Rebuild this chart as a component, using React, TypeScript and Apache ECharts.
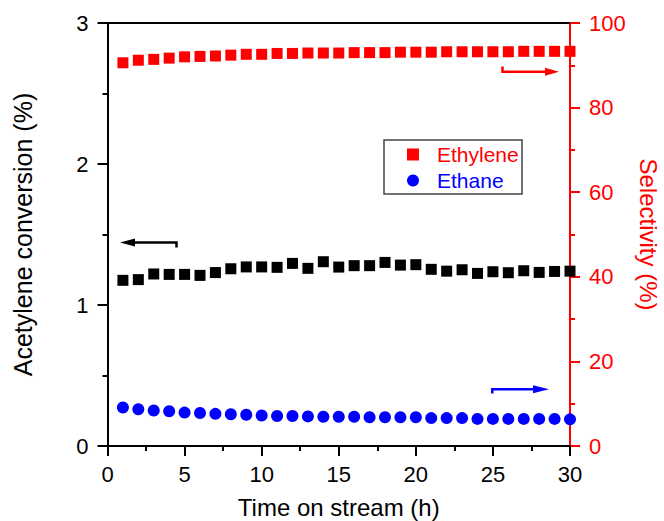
import React, { useEffect, useRef } from "react";
import * as echarts from "echarts";

const timeH = [1,2,3,4,5,6,7,8,9,10,11,12,13,14,15,16,17,18,19,20,21,22,23,24,25,26,27,28,29,30];
const conversion = [1.175,1.18,1.22,1.217,1.217,1.21,1.23,1.257,1.27,1.27,1.267,1.295,1.26,1.307,1.269,1.279,1.279,1.302,1.283,1.286,1.253,1.24,1.25,1.224,1.236,1.229,1.243,1.231,1.238,1.24];
const ethyleneSel = [90.6,91.2,91.4,91.7,92.0,92.1,92.2,92.4,92.6,92.6,92.8,92.8,92.9,92.9,92.9,93.0,93.0,93.0,93.1,93.1,93.1,93.2,93.2,93.2,93.2,93.2,93.3,93.3,93.3,93.3];
const ethaneSel = [9.1,8.7,8.4,8.2,7.9,7.8,7.6,7.5,7.4,7.2,7.1,7.1,7.0,6.9,6.9,6.9,6.8,6.8,6.8,6.8,6.6,6.6,6.6,6.4,6.4,6.4,6.4,6.4,6.4,6.3];
const leftTicks = [0, 1, 2, 3];
const rightTicks = [0, 20, 40, 60, 80, 100];
const xTicks = [0, 5, 10, 15, 20, 25, 30];

const FONT = 'Arial, "Liberation Sans", sans-serif';

export default function App() {
  const ref = useRef<HTMLDivElement>(null);
  useEffect(() => {
    if (!ref.current) return;
    const chart = echarts.init(ref.current, null, { renderer: "svg" });
    const pair = (ys: number[]) => timeH.map((t, i) => [t, ys[i]]);
    chart.setOption({
      animation: false,
      backgroundColor: "#fff",
      textStyle: { fontFamily: FONT },
      grid: { left: 107.5, right: 94, top: 23, bottom: 75, containLabel: false, outerBoundsMode: "none" },
      legend: {
        orient: "vertical",
        left: 407,
        top: 144,
        padding: 0,
        itemWidth: 12,
        itemHeight: 12,
        itemGap: 5,
        textStyle: { fontSize: 21, lineHeight: 21, fontFamily: FONT, padding: [0, 0, 0, 13] },
        data: [
          { name: "Ethylene", icon: "rect", textStyle: { color: "#ff0000" } },
          { name: "Ethane", icon: "circle", textStyle: { color: "#0000ff" } },
        ],
      },
      xAxis: [
        {
          type: "value",
          min: xTicks[0],
          max: xTicks[xTicks.length - 1],
          interval: 5,
          name: "Time on stream (h)",
          nameLocation: "middle",
          nameGap: 50,
          nameTextStyle: { fontSize: 24, lineHeight: 23, color: "#000", fontFamily: FONT },
          axisLine: { onZero: false, lineStyle: { color: "#000", width: 2 } },
          axisTick: { inside: false, length: 10, lineStyle: { color: "#000", width: 2 } },
          minorTick: { show: true, splitNumber: 2, length: 5, lineStyle: { color: "#000", width: 2 } },
          axisLabel: { fontSize: 22, color: "#000", margin: 17, fontFamily: FONT },
          splitLine: { show: false },
        },
        {
          type: "value",
          position: "top",
          min: 0,
          max: 30,
          axisLine: { show: true, onZero: false, lineStyle: { color: "#000", width: 2 } },
          axisTick: { show: false },
          axisLabel: { show: false },
          splitLine: { show: false },
        },
      ],
      yAxis: [
        {
          type: "value",
          position: "left",
          min: leftTicks[0],
          max: leftTicks[leftTicks.length - 1],
          interval: 1,
          name: "Acetylene conversion (%)",
          nameLocation: "middle",
          nameGap: 72,
          nameTextStyle: { fontSize: 25, color: "#000", fontFamily: FONT },
          axisLine: { show: true, onZero: false, lineStyle: { color: "#000", width: 2 } },
          axisTick: { inside: false, length: 10, lineStyle: { color: "#000", width: 2 } },
          minorTick: { show: true, splitNumber: 2, length: 5, lineStyle: { color: "#000", width: 2 } },
          axisLabel: { fontSize: 22, color: "#000", margin: 19, fontFamily: FONT },
          splitLine: { show: false },
        },
        {
          type: "value",
          position: "right",
          min: rightTicks[0],
          max: rightTicks[rightTicks.length - 1],
          interval: 20,
          name: "Selectivity (%)",
          nameLocation: "middle",
          nameRotate: -90,
          nameGap: 67,
          nameTextStyle: { fontSize: 24, lineHeight: 23, color: "#ff0000", fontFamily: FONT },
          axisLine: { show: true, onZero: false, lineStyle: { color: "#ff0000", width: 2 } },
          axisTick: { inside: false, length: 10, lineStyle: { color: "#ff0000", width: 2 } },
          minorTick: { show: true, splitNumber: 2, length: 5, lineStyle: { color: "#ff0000", width: 2 } },
          axisLabel: { fontSize: 22, color: "#ff0000", margin: 19, fontFamily: FONT },
          splitLine: { show: false },
        },
      ],
      graphic: [
        { type: "rect", shape: { x: 384, y: 140, width: 138, height: 54 }, style: { fill: "none", stroke: "#444", lineWidth: 1.5 }, z: 10 },
        { type: "polyline", shape: { points: [[133, 242.5], [176.5, 242.5], [176.5, 247.5]] }, style: { stroke: "#000", lineWidth: 2.5, fill: "none" }, z: 10 },
        { type: "polygon", shape: { points: [[120, 242.5], [135, 238.5], [135, 246.5]] }, style: { fill: "#000" }, z: 10 },
        { type: "polyline", shape: { points: [[502.5, 66.5], [502.5, 71.7], [547, 71.7]] }, style: { stroke: "#ff0000", lineWidth: 2.5, fill: "none" }, z: 10 },
        { type: "polygon", shape: { points: [[559, 71.7], [545, 67.7], [545, 75.7]] }, style: { fill: "#ff0000" }, z: 10 },
        { type: "polyline", shape: { points: [[492.3, 393.5], [492.3, 389.3], [535, 389.3]] }, style: { stroke: "#0000ff", lineWidth: 2.5, fill: "none" }, z: 10 },
        { type: "polygon", shape: { points: [[549, 389.3], [533, 385.3], [533, 393.3]] }, style: { fill: "#0000ff" }, z: 10 },
      ],
      series: [
        {
          name: "Acetylene conversion",
          type: "scatter",
          xAxisIndex: 0,
          yAxisIndex: 0,
          symbol: "rect",
          symbolSize: 11,
          itemStyle: { color: "#000", opacity: 1 },
          data: pair(conversion),
        },
        {
          name: "Ethylene",
          type: "scatter",
          xAxisIndex: 0,
          yAxisIndex: 1,
          symbol: "rect",
          symbolSize: 11,
          itemStyle: { color: "#ff0000", opacity: 1 },
          data: pair(ethyleneSel),
        },
        {
          name: "Ethane",
          type: "scatter",
          xAxisIndex: 0,
          yAxisIndex: 1,
          symbol: "circle",
          symbolSize: 12,
          itemStyle: { color: "#0000ff", opacity: 1 },
          data: pair(ethaneSel),
        },
      ],
    });
    return () => chart.dispose();
  }, []);
  return <div ref={ref} style={{ width: 664, height: 521, position: "absolute", left: 0, top: 0 }} />;
}
